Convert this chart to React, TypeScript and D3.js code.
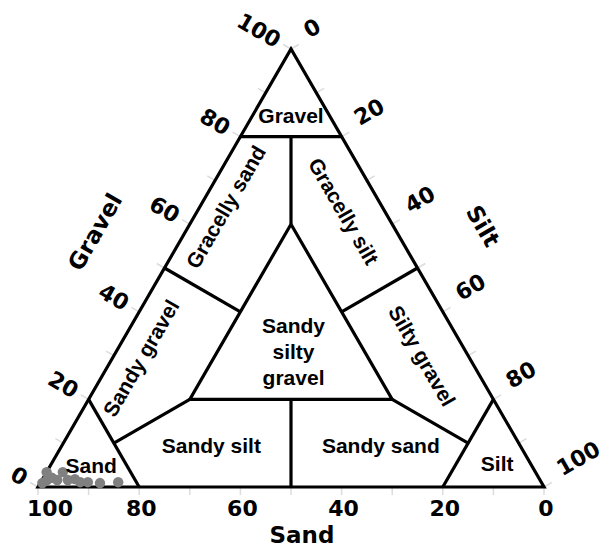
import React, { useEffect, useRef } from 'react';
import * as d3 from 'd3';

// ternary values are [sand, gravel, silt] in percent
const axisTicks = [0, 10, 20, 30, 40, 50, 60, 70, 80, 90, 100];
const axisLabels = [0, 20, 40, 60, 80, 100];

const boundaries = [
  [[20, 80, 0], [0, 80, 20]],
  [[10, 80, 10], [20, 60, 20]],
  [[20, 60, 20], [60, 20, 20], [20, 20, 60], [20, 60, 20]],
  [[50, 50, 0], [40, 40, 20]],
  [[0, 50, 50], [20, 40, 40]],
  [[80, 20, 0], [80, 0, 20]],
  [[80, 10, 10], [60, 20, 20]],
  [[0, 20, 80], [20, 0, 80]],
  [[10, 10, 80], [20, 20, 60]],
  [[40, 20, 40], [50, 0, 50]],
];

const regionNames = [
  'Gravel', 'Gracelly sand', 'Gracelly silt', 'Sandy gravel', 'Silty gravel',
  'Sandy silty gravel', 'Sandy silt', 'Sandy sand', 'Sand', 'Silt',
];
const regionAt = [
  [7.5, 85, 7.5], [31, 64, 5], [8, 63, 29], [65, 29.5, 5.5], [9, 30, 61],
  [34, 31, 35], [61, 9.5, 29.5], [27.5, 9.5, 63], [87, 5, 8], [6.5, 5.5, 88],
];
const regionAngle = [0, -60, 60, -60, 60, 0, 0, 0, 0, 0];

const samples = [
  [98.7, 0.9, 0.4], [96.6, 3.4, 0], [97.4, 1.6, 1], [96.2, 2.1, 1.7],
  [95.4, 1.6, 3], [93.4, 3.4, 3.2], [93.3, 1.6, 5.1], [91.8, 1.8, 6.4],
  [91.1, 1.1, 7.8], [89.6, 1.1, 9.3], [87.3, 0.9, 11.8], [83.6, 1.1, 15.3],
];

const App = () => {
  const svgRef = useRef(null);

  useEffect(() => {
    const svg = d3.select(svgRef.current);
    svg.selectAll('*').remove();

    const h = Math.sqrt(3) / 2;
    const x = d3.scaleLinear().domain([0, 1]).range([38, 544]);
    const y = d3.scaleLinear().domain([0, h]).range([487, 49]);
    const pt = (d) => {
      const tot = d[0] + d[1] + d[2];
      const g = d[1] / tot, t = d[2] / tot;
      return [x(t + g / 2), y(g * h)];
    };
    const line = d3.line().x(d => pt(d)[0]).y(d => pt(d)[1]);

    const tickFont = "'DejaVu Sans', sans-serif";
    const labelFont = "'Liberation Sans', Arial, sans-serif";

    // tick marks
    const ticks = svg.append('g').attr('stroke', '#dcdcdc').attr('stroke-width', 1.5);
    axisTicks.forEach(v => {
      const b = pt([v, 0, 100 - v]);
      ticks.append('line').attr('x1', b[0]).attr('y1', b[1]).attr('x2', b[0]).attr('y2', b[1] + 8);
      const l = pt([100 - v, v, 0]);
      ticks.append('line').attr('x1', l[0]).attr('y1', l[1])
        .attr('x2', l[0] - 9 * 0.866).attr('y2', l[1] - 9 * 0.5);
      const r = pt([0, 100 - v, v]);
      ticks.append('line').attr('x1', r[0]).attr('y1', r[1])
        .attr('x2', r[0] + 9 * 0.866).attr('y2', r[1] - 9 * 0.5);
    });

    // region boundaries and frame
    const lines = svg.append('g').attr('fill', 'none').attr('stroke', '#000')
      .attr('stroke-width', 3.2).attr('stroke-linejoin', 'miter');
    lines.append('path').attr('d', line([[100, 0, 0], [0, 100, 0], [0, 0, 100], [100, 0, 0]]) + 'Z');
    boundaries.forEach(b => lines.append('path').attr('d', line(b)));

    // sample points
    svg.append('g').selectAll('circle').data(samples).enter().append('circle')
      .attr('cx', d => pt(d)[0]).attr('cy', d => pt(d)[1])
      .attr('r', 5.2).attr('fill', '#808080');

    // region labels
    regionNames.forEach((name, i) => {
      const p = pt(regionAt[i]);
      const txt = svg.append('text')
        .attr('transform', `translate(${p[0]},${p[1]}) rotate(${regionAngle[i]})`)
        .attr('text-anchor', 'middle').attr('dominant-baseline', 'central')
        .attr('font-family', labelFont).attr('font-weight', 'bold')
        .attr('font-size', 21).attr('fill', '#000');
      const words = name === 'Sandy silty gravel' ? ['Sandy', 'silty', 'gravel'] : [name];
      words.forEach((w, j) => {
        txt.append('tspan').attr('x', 0).attr('y', (j - (words.length - 1) / 2) * 26).text(w);
      });
    });

    // tick labels
    const tl = svg.append('g').attr('font-family', tickFont).attr('font-weight', 'bold')
      .attr('font-size', 22).attr('fill', '#000');
    axisLabels.forEach(v => {
      const b = pt([v, 0, 100 - v]);
      tl.append('text').attr('x', b[0] + (v === 100 ? 12 : 2)).attr('y', b[1] + 29)
        .attr('text-anchor', 'middle').text(v);
      const l = pt([100 - v, v, 0]);
      tl.append('text')
        .attr('transform', `translate(${l[0] - 14 * 0.866},${l[1] - 14 * 0.5}) rotate(30)`)
        .attr('text-anchor', 'end').attr('dominant-baseline', 'central').text(v);
      const r = pt([0, 100 - v, v]);
      tl.append('text')
        .attr('transform', `translate(${r[0] + 21 * 0.866},${r[1] - 21 * 0.5}) rotate(-30)`)
        .attr('text-anchor', 'start').text(v);
    });

    // axis titles
    const titles = [
      { text: 'Sand', x: 302, y: 535, a: 0 },
      { text: 'Gravel', x: 95, y: 232, a: -60 },
      { text: 'Silt', x: 483, y: 226, a: 60 },
    ];
    titles.forEach(t => {
      svg.append('text')
        .attr('transform', `translate(${t.x},${t.y}) rotate(${t.a})`)
        .attr('text-anchor', 'middle').attr('dominant-baseline', 'central')
        .attr('font-family', tickFont).attr('font-weight', 'bold')
        .attr('font-size', 23).text(t.text);
    });
  }, []);

  return (
    <svg ref={svgRef} width={605} height={548}
      style={{ position: 'absolute', left: 0, top: 0, background: '#fff' }} />
  );
};

export default App;
